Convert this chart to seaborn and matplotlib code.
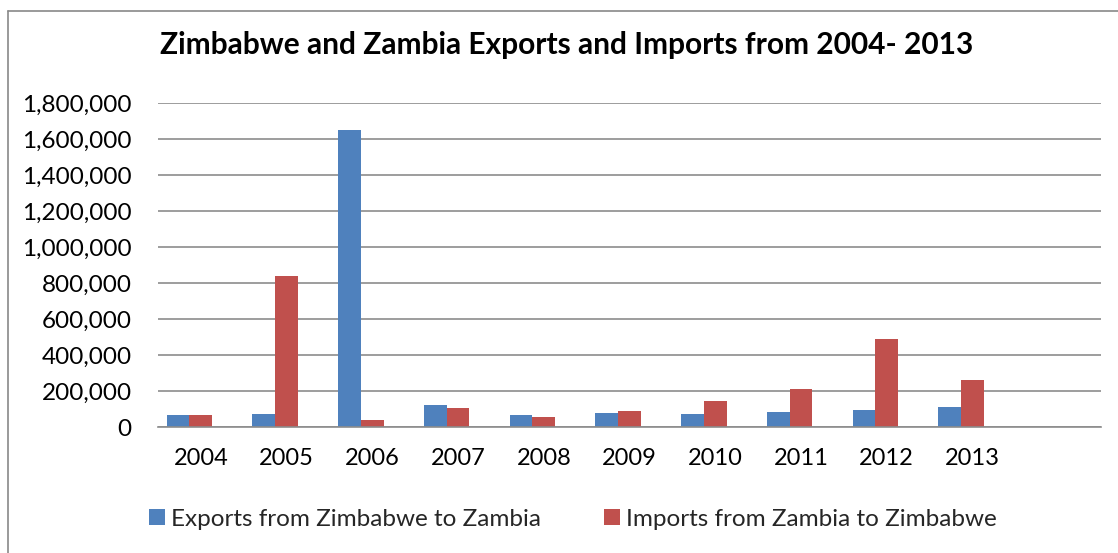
import numpy as np
import pandas as pd
import seaborn as sns
import matplotlib
matplotlib.use("Agg")
import matplotlib.pyplot as plt
from matplotlib.patches import Patch
from matplotlib.lines import Line2D
from matplotlib.ticker import FuncFormatter

# ---- data ----
years = ['2004', '2005', '2006', '2007', '2008', '2009', '2010', '2011', '2012', '2013']
exports = [66000, 72000, 1650000, 120000, 67000, 79000, 72000, 81000, 96000, 111000]
imports = [69000, 840000, 41000, 105000, 57000, 91000, 146000, 214000, 490000, 259000]
blank = [0] * len(years)
exp_name = 'Exports from Zimbabwe to Zambia'
imp_name = 'Imports from Zambia to Zimbabwe'
blank_name = 'blank series'
title = 'Zimbabwe and Zambia Exports and Imports from 2004- 2013'
y_ticks = [0, 200000, 400000, 600000, 800000, 1000000, 1200000, 1400000, 1600000, 1800000]

df = pd.DataFrame({
    'year': years * 3,
    'value': exports + imports + blank,
    'series': [exp_name] * len(years) + [imp_name] * len(years) + [blank_name] * len(years),
})

blue = '#4F81BD'
red = '#C0504D'
grid_c = '#8C8C8C'

sns.set_theme(style='white')
plt.rcParams['font.family'] = ['Lato', 'DejaVu Sans']

fig = plt.figure(figsize=(11.18, 5.53), dpi=100)
ax = fig.add_axes([0.1413, 0.2278, 0.8435, 0.5859])

sns.barplot(data=df, x='year', y='value', hue='series',
            hue_order=[exp_name, imp_name, blank_name],
            palette=[blue, red, '#FFFFFF'], order=years,
            width=0.795, errorbar=None, linewidth=0, saturation=1,
            legend=False, ax=ax)

ax.set_xlim(-0.5, 10.5)
ax.set_ylim(0, 1800000)
ax.set_yticks(y_ticks)
ax.yaxis.set_major_formatter(FuncFormatter(lambda v, p: f'{int(v):,}'))
ax.yaxis.grid(True, color=grid_c, lw=1.2)
ax.xaxis.grid(False)
ax.set_axisbelow(True)
for s in ['left', 'right', 'top']:
    ax.spines[s].set_visible(False)
ax.spines['bottom'].set_color(grid_c)
ax.spines['bottom'].set_linewidth(1.2)
ax.tick_params(axis='y', length=0, labelsize=17.5, pad=19, labelcolor='black')
ax.tick_params(axis='x', length=0, labelsize=17, pad=15, labelcolor='black')
ax.set_xlabel('')
ax.set_ylabel('')

fig.text(0.507, 1 - 53.6 / 553, title, ha='center', va='baseline',
         fontsize=21.5, fontweight='bold', color='black')

handles = [Patch(facecolor=blue, edgecolor='none'), Patch(facecolor=red, edgecolor='none')]
fig.legend(handles, [exp_name, imp_name], loc='center', bbox_to_anchor=(0.5125, 1 - 519 / 553),
           ncol=2, frameon=False, fontsize=17.5, handlelength=0.65, handleheight=0.65,
           handletextpad=0.25, columnspacing=2.6)

# chart area border (left and top visible)
fig.add_artist(Line2D([7.5 / 1118, 7.5 / 1118], [-0.01, 1 - 10.5 / 553],
                      transform=fig.transFigure, color='#898989', lw=1.2))
fig.add_artist(Line2D([7.5 / 1118, 1.01], [1 - 10.5 / 553, 1 - 10.5 / 553],
                      transform=fig.transFigure, color='#898989', lw=1.2))

fig.savefig('out.png', dpi=100, facecolor='white')
